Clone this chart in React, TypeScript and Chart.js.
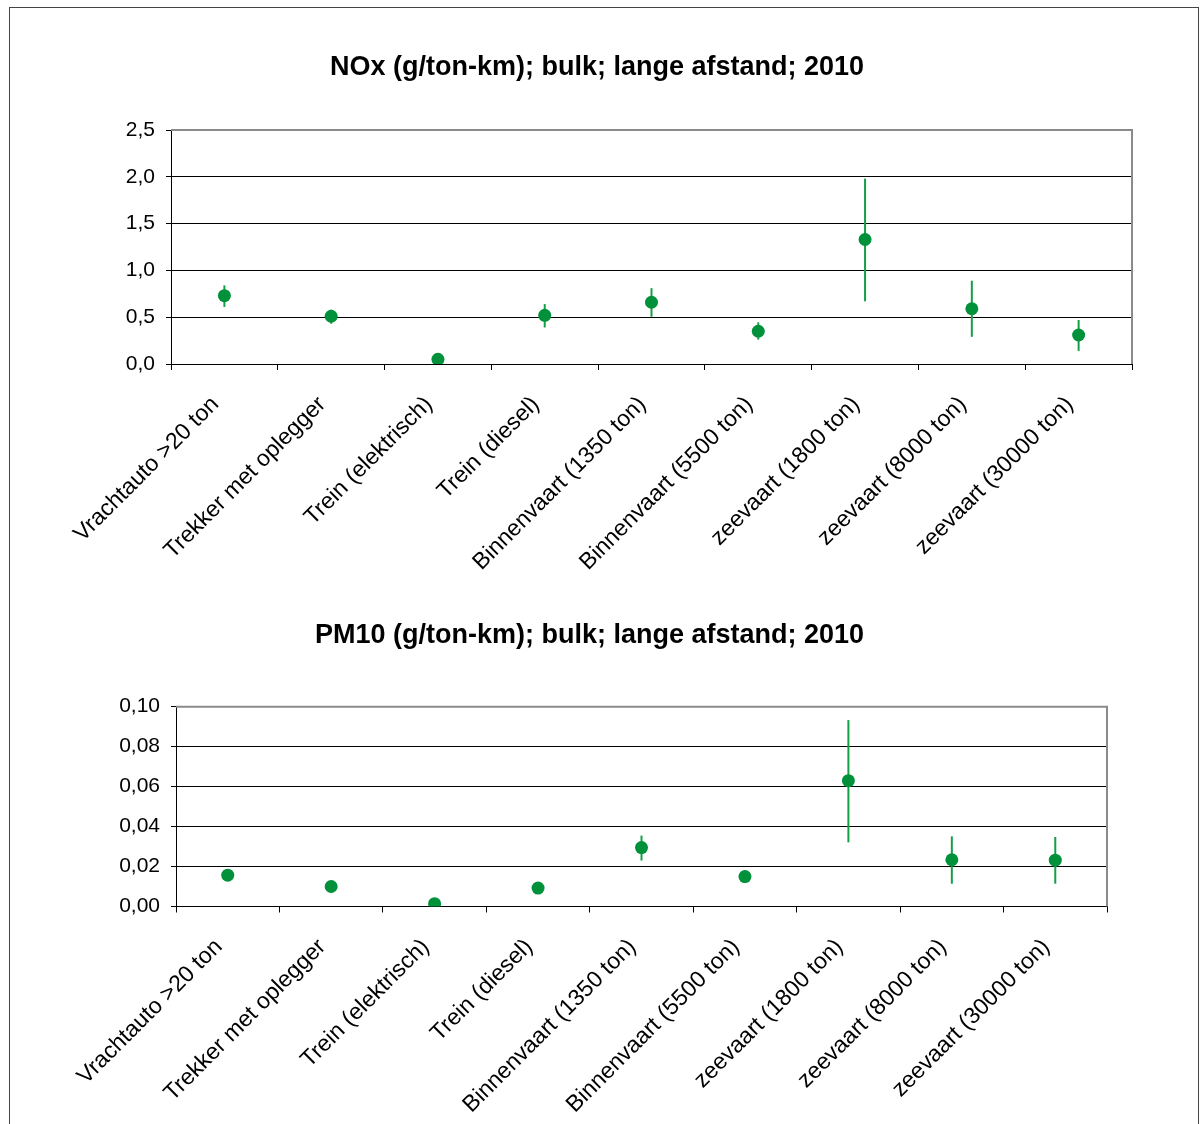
import React, { useEffect, useRef } from 'react';
import { Chart, registerables } from 'chart.js';

Chart.register(...registerables);

const categories = [
  'Vrachtauto >20 ton',
  'Trekker met oplegger',
  'Trein (elektrisch)',
  'Trein (diesel)',
  'Binnenvaart (1350 ton)',
  'Binnenvaart (5500 ton)',
  'zeevaart (1800 ton)',
  'zeevaart (8000 ton)',
  'zeevaart (30000 ton)',
];

const noxTitle = 'NOx (g/ton-km); bulk; lange afstand; 2010';
const noxValues = [0.73, 0.51, 0.05, 0.52, 0.66, 0.35, 1.33, 0.59, 0.31];
const noxLow = [0.61, 0.43, 0.04, 0.39, 0.505, 0.26, 0.67, 0.29, 0.14];
const noxHigh = [0.84, 0.58, 0.06, 0.64, 0.81, 0.445, 1.98, 0.89, 0.47];
const noxAxis = [0, 2.5, 0.5, 1]; // min, max, step, decimals

const pmTitle = 'PM10 (g/ton-km); bulk; lange afstand; 2010';
const pmValues = [0.0157, 0.01, 0.0014, 0.0092, 0.0295, 0.015, 0.063, 0.0234, 0.0232];
const pmLow = [0.015, 0.0095, 0.0012, 0.0088, 0.023, 0.012, 0.0321, 0.0114, 0.0114];
const pmHigh = [0.0165, 0.0105, 0.0016, 0.0096, 0.0355, 0.018, 0.0933, 0.0351, 0.0348];
const pmAxis = [0, 0.1, 0.02, 2];

const FONT = '"Liberation Sans", Arial, sans-serif';
const MARKER = '#00913a';
const BAR = '#12a046';

const errorBarPlugin = {
  id: 'errorBars',
  beforeDatasetsDraw(chart: any) {
    const ds: any = chart.data.datasets[0];
    const xs = chart.scales.x;
    const ys = chart.scales.y;
    const ctx = chart.ctx;
    ctx.save();
    ctx.strokeStyle = BAR;
    ctx.lineWidth = 2;
    (ds.errLow as number[]).forEach((lo, i) => {
      const px = xs.getPixelForValue(i);
      ctx.beginPath();
      ctx.moveTo(px, ys.getPixelForValue(lo));
      ctx.lineTo(px, ys.getPixelForValue(ds.errHigh[i]));
      ctx.stroke();
    });
    ctx.restore();
  },
};

const plotFramePlugin = {
  id: 'plotFrame',
  beforeDatasetsDraw(chart: any) {
    const { ctx, chartArea } = chart;
    const { left, right, top, bottom } = chartArea;
    ctx.save();
    ctx.strokeStyle = '#8a8a8a';
    ctx.lineWidth = 2;
    ctx.beginPath();
    ctx.moveTo(left, top);
    ctx.lineTo(right, top);
    ctx.lineTo(right, bottom);
    ctx.stroke();
    ctx.restore();
  },
};

type Props = {
  top: number;
  height: number;
  title: string;
  values: number[];
  low: number[];
  high: number[];
  axis: number[];
  padLeft: number;
  padRight: number;
  yWidth: number;
  xHeight: number;
  titleTop: number;
  titleBottom: number;
};

function ErrorChart(p: Props) {
  const ref = useRef<HTMLCanvasElement | null>(null);
  useEffect(() => {
    if (!ref.current) return;
    const [min, max, step, dec] = p.axis;
    const chart = new Chart(ref.current, {
      type: 'line',
      data: {
        labels: categories,
        datasets: [
          {
            data: p.values,
            errLow: p.low,
            errHigh: p.high,
            showLine: false,
            pointRadius: 6.5,
            pointHoverRadius: 6.5,
            pointBackgroundColor: MARKER,
            pointBorderColor: MARKER,
            pointBorderWidth: 0,
            borderColor: MARKER,
          } as any,
        ],
      },
      options: {
        animation: false,
        responsive: false,
        events: [],
        layout: { padding: { left: p.padLeft, right: p.padRight, top: 0, bottom: 0 } },
        plugins: {
          legend: { display: false },
          tooltip: { enabled: false },
          title: {
            display: true,
            text: p.title,
            color: '#000',
            font: { family: FONT, size: 27, weight: 'bold', lineHeight: 1.2 },
            padding: { top: p.titleTop, bottom: p.titleBottom },
          },
        },
        scales: {
          x: {
            type: 'category',
            offset: true,
            grid: {
              display: true,
              drawOnChartArea: false,
              drawTicks: true,
              tickLength: 6,
              color: '#000',
              offset: true,
            },
            border: { display: true, color: '#000', width: 1 },
            ticks: {
              color: '#000',
              font: { family: FONT, size: 23 },
              minRotation: 45,
              maxRotation: 45,
              autoSkip: false,
              padding: 21,
              labelOffset: -9,
            },
            afterFit: (s: any) => {
              s.height = p.xHeight;
            },
          },
          y: {
            min,
            max,
            grid: { color: '#000', lineWidth: 1, drawTicks: true, tickLength: 5 },
            border: { display: true, color: '#000', width: 1 },
            ticks: {
              stepSize: step,
              color: '#000',
              font: { family: FONT, size: 21 },
              padding: 11,
              callback: (v: any) => Number(v).toFixed(dec).replace('.', ','),
            },
            afterFit: (s: any) => {
              s.width = p.yWidth;
            },
          },
        },
      } as any,
      plugins: [plotFramePlugin, errorBarPlugin],
    });
    return () => chart.destroy();
  }, []);
  return (
    <canvas
      ref={ref}
      width={1203}
      height={p.height}
      style={{ position: 'absolute', left: 0, top: p.top, width: 1203, height: p.height }}
    />
  );
}

export default function App() {
  return (
    <div style={{ position: 'absolute', left: 0, top: 0, width: 1203, height: 1124, overflow: 'hidden', background: '#fff' }}>
      <div
        style={{
          position: 'absolute',
          left: 9,
          top: 7,
          width: 1190,
          height: 1117,
          boxSizing: 'border-box',
          border: '1px solid #444',
          borderBottom: 'none',
        }}
      />
      <ErrorChart
        top={0}
        height={590}
        title={noxTitle}
        values={noxValues}
        low={noxLow}
        high={noxHigh}
        axis={noxAxis}
        padLeft={62}
        padRight={71}
        yWidth={109}
        xHeight={226}
        titleTop={51}
        titleBottom={46.6}
      />
      <ErrorChart
        top={590}
        height={534}
        title={pmTitle}
        values={pmValues}
        low={pmLow}
        high={pmHigh}
        axis={pmAxis}
        padLeft={72}
        padRight={96}
        yWidth={104}
        xHeight={217.5}
        titleTop={29.8}
        titleBottom={54.5}
      />
    </div>
  );
}
